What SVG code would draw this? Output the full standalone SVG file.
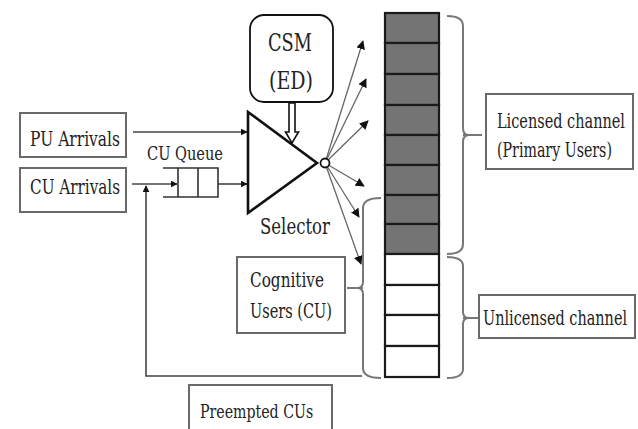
<svg xmlns="http://www.w3.org/2000/svg" width="638" height="429" viewBox="0 0 638 429">
<style>
.box{fill:#fff;stroke:#6a6a6a;stroke-width:2}
.ln{fill:none;stroke:#444;stroke-width:1.6}
.fan{fill:none;stroke:#666;stroke-width:1.3}
.br{fill:none;stroke:#777;stroke-width:2}
.dk{fill:#747474;stroke:#1a1a1a;stroke-width:2.2}
.wt{fill:#fff;stroke:#1a1a1a;stroke-width:2.2}
</style>
<defs>
<marker id="ah" viewBox="0 0 10 10" refX="9" refY="5" markerWidth="7" markerHeight="7" markerUnits="userSpaceOnUse" orient="auto">
<path d="M0,0 L10,5 L0,10 z" fill="#111"/>
</marker>
<marker id="ah2" viewBox="0 0 10 10" refX="9" refY="5" markerWidth="9" markerHeight="9" markerUnits="userSpaceOnUse" orient="auto">
<path d="M0,0 L10,5 L0,10 z" fill="#111"/>
</marker>
</defs>
<rect width="638" height="429" fill="#fff"/>

<g id="connectors">
<line class="ln" x1="133" y1="132" x2="247" y2="132" marker-end="url(#ah)"/>
<line class="ln" x1="132" y1="184" x2="177" y2="184" marker-end="url(#ah)"/>
<line class="ln" x1="218" y1="184" x2="247" y2="184" marker-end="url(#ah)"/>
<path class="ln" d="M362,376 H146 V186" marker-end="url(#ah)"/>
<line class="fan" x1="325" y1="163" x2="363" y2="41" marker-end="url(#ah2)"/>
<line class="fan" x1="325" y1="163" x2="366" y2="79" marker-end="url(#ah2)"/>
<line class="fan" x1="325" y1="163" x2="368" y2="121" marker-end="url(#ah2)"/>
<line class="fan" x1="325" y1="163" x2="364" y2="186" marker-end="url(#ah2)"/>
<line class="fan" x1="325" y1="163" x2="359" y2="217" marker-end="url(#ah2)"/>
<line class="fan" x1="325" y1="163" x2="361" y2="264" marker-end="url(#ah2)"/>
<path d="M289,103 H295 V132 H298.5 L292,143 L285.5,132 H289 Z" fill="#fff" stroke="#111" stroke-width="1.6"/>
<path class="br" d="M447,16 Q463,16 463,26 V128 Q463,135 469,135 Q463,135 463,142 V244 Q463,254 447,254 M463,135 H482"/>
<path class="br" d="M447,257 Q463,257 463,266 V312 Q463,318 469,318 Q463,318 463,324 V369 Q463,378 447,378 M463,318 H480"/>
<path class="br" d="M381,198 Q363,198 363,208 V282 Q363,288 357,288 Q363,288 363,294 V368 Q363,378 381,378 M363,288 H347"/>
</g>

<g font-family="DejaVu Serif, Liberation Serif, serif" font-size="21" fill="#222">
<g id="pu-arrivals">
<rect class="box" x="20" y="113" width="106" height="44"/>
<text transform="translate(30,146) scale(0.75,1)" textLength="120" lengthAdjust="spacingAndGlyphs">PU Arrivals</text>
</g>
<g id="cu-arrivals">
<rect class="box" x="20" y="168" width="106" height="44"/>
<text transform="translate(30,194) scale(0.75,1)" textLength="120" lengthAdjust="spacingAndGlyphs">CU Arrivals</text>
</g>
<g id="cu-queue">
<path d="M163,168 H218 V197 H163 M178,168 V197 M198,168 V197" fill="none" stroke="#333" stroke-width="1.6"/>
<text transform="translate(147,160) scale(0.8,1)" font-size="19" textLength="95" lengthAdjust="spacingAndGlyphs">CU Queue</text>
</g>
<g id="csm">
<rect x="250" y="15" width="83" height="87" rx="14" fill="#fff" stroke="#111" stroke-width="1.8"/>
<text transform="translate(268,51) scale(0.8,1)" font-size="24" textLength="55" lengthAdjust="spacingAndGlyphs">CSM</text>
<text transform="translate(269,89) scale(0.786,1)" font-size="24" textLength="56" lengthAdjust="spacingAndGlyphs">(ED)</text>
</g>
<g id="selector">
<path d="M248,112 L317,163 L248,213 Z" fill="#fff" stroke="#111" stroke-width="2.6"/>
<circle cx="325" cy="163" r="4.5" fill="#fff" stroke="#111" stroke-width="1.8"/>
<text transform="translate(260,234) scale(0.76,1)" font-size="22" textLength="92" lengthAdjust="spacingAndGlyphs">Selector</text>
</g>
<g id="cognitive-users">
<rect class="box" x="237" y="257" width="108" height="76"/>
<text transform="translate(250,287) scale(0.733,1)" textLength="101" lengthAdjust="spacingAndGlyphs">Cognitive</text>
<text transform="translate(250,318) scale(0.732,1)" textLength="112" lengthAdjust="spacingAndGlyphs">Users (CU)</text>
</g>
<g id="channels">
<rect class="dk" x="385" y="13" width="54" height="30"/>
<rect class="dk" x="385" y="43" width="54" height="31"/>
<rect class="dk" x="385" y="74" width="54" height="31"/>
<rect class="dk" x="385" y="105" width="54" height="30"/>
<rect class="dk" x="385" y="135" width="54" height="30"/>
<rect class="dk" x="385" y="165" width="54" height="30"/>
<rect class="dk" x="385" y="195" width="54" height="29"/>
<rect class="dk" x="385" y="224" width="54" height="30"/>
<rect class="wt" x="385" y="254" width="54" height="31"/>
<rect class="wt" x="385" y="285" width="54" height="30"/>
<rect class="wt" x="385" y="315" width="54" height="31"/>
<rect class="wt" x="385" y="346" width="54" height="31"/>
</g>
<g id="licensed">
<rect class="box" x="486" y="94" width="147" height="75"/>
<text transform="translate(497,128) scale(0.723,1)" font-size="20" textLength="177" lengthAdjust="spacingAndGlyphs">Licensed channel</text>
<text transform="translate(497,157) scale(0.723,1)" font-size="20" textLength="159" lengthAdjust="spacingAndGlyphs">(Primary Users)</text>
</g>
<g id="unlicensed">
<rect class="box" x="479" y="295" width="156" height="43"/>
<text transform="translate(483,325) scale(0.686,1)" font-size="20" textLength="210" lengthAdjust="spacingAndGlyphs">Unlicensed channel</text>
</g>
<g id="preempted">
<rect class="box" x="189" y="385" width="143" height="50"/>
<text transform="translate(200,418) scale(0.77,1)" font-size="19" textLength="147" lengthAdjust="spacingAndGlyphs">Preempted CUs</text>
</g>
</g>
</svg>
